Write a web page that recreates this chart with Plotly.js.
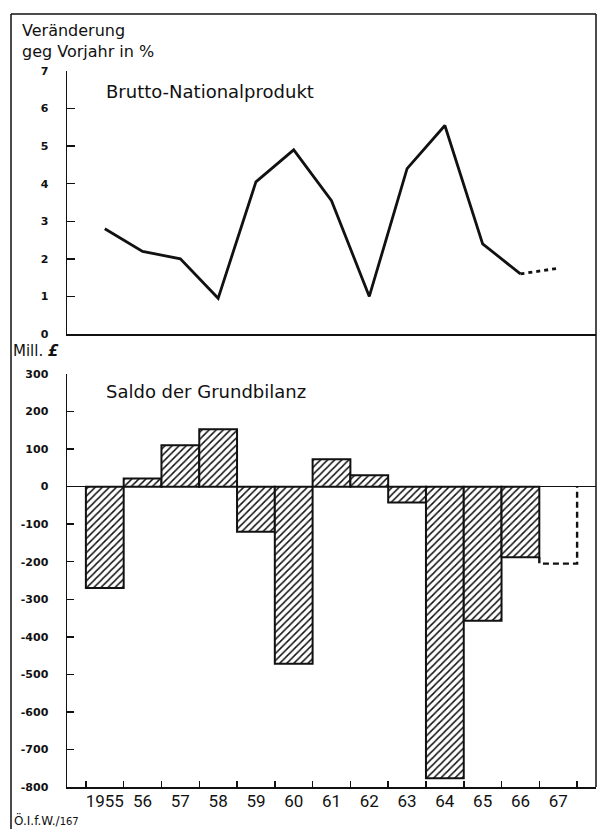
<!DOCTYPE html>
<html>
<head>
<meta charset="utf-8">
<script src="https://cdn.plot.ly/plotly-3.0.1.min.js"></script>
<style>
html,body{margin:0;padding:0;background:#fff;}
#chart{width:611px;height:829px;}
</style>
</head>
<body>
<div id="chart"></div>
<script>
// ---- data ----
var years = [1955,1956,1957,1958,1959,1960,1961,1962,1963,1964,1965,1966,1967];
var yearLabels = ["1955","56","57","58","59","60","61","62","63","64","65","66","67"];
// Brutto-Nationalprodukt, Veränderung gegen Vorjahr in %
var gnpGrowth = [2.8,2.2,2.0,0.95,4.05,4.9,3.55,1.0,4.4,5.55,2.4,1.6,1.75];
// Saldo der Grundbilanz, Mill. £
var basicBalance = [-270,22,110,153,-120,-472,73,30,-42,-777,-357,-188,-205];
var gnpTicks = [0,1,2,3,4,5,6,7];
var gnpTickText = ["0","1","2","3","4","5","6","7"];
var balTicks = [-800,-700,-600,-500,-400,-300,-200,-100,0,100,200,300];
var balTickText = ["-800","-700","-600","-500","-400","-300","-200","-100","0","100","200","300"];

// ---- helpers ----
var W = 611, H = 829;
function px(x){ return x / W; }
function py(y){ return 1 - y / H; }

var nSolid = years.length - 1; // last year is an estimate (dashed)
var ink = "#111";

// bar boundaries (tick marks on the lower axis)
var edges = years.map(function(y){ return y - 0.5; });
edges.push(years[years.length - 1] + 0.5);
var edgeText = edges.map(function(){ return ""; });

var traces = [
  { // GNP solid line
    x: years.slice(0, nSolid), y: gnpGrowth.slice(0, nSolid),
    type: "scatter", mode: "lines", xaxis: "x", yaxis: "y",
    line: {color: ink, width: 2.8}, hoverinfo: "skip"
  },
  { // GNP dashed estimate
    x: years.slice(nSolid - 1), y: gnpGrowth.slice(nSolid - 1),
    type: "scatter", mode: "lines", xaxis: "x", yaxis: "y",
    line: {color: ink, width: 2.8, dash: "4px,4px"}, hoverinfo: "skip"
  },
  { // Balance bars
    x: years.slice(0, nSolid), y: basicBalance.slice(0, nSolid),
    type: "bar", xaxis: "x2", yaxis: "y2", width: 1,
    marker: {
      color: "#fff",
      line: {color: ink, width: 2},
      pattern: {shape: "/", fgcolor: ink, bgcolor: "#fff", size: 5, solidity: 0.3}
    },
    hoverinfo: "skip"
  }
];
// dashed estimate bar outline for last year
var ly = years[nSolid], lv = basicBalance[nSolid];
traces.push({
  x: [ly - 0.5, ly - 0.5, ly + 0.5, ly + 0.5],
  y: [basicBalance[nSolid - 1], lv, lv, 0],
  type: "scatter", mode: "lines", xaxis: "x3", yaxis: "y2",
  line: {color: ink, width: 2.4, dash: "6px,4px"}, hoverinfo: "skip"
});

var xDomain = [px(67), px(596)];
var xRange = [years[0] - 1, years[years.length - 1] + 1];
var tickFont = {family: "DejaVu Sans, sans-serif", size: 11, color: ink, weight: "bold"};
var labelFont = {family: "DejaVu Sans, sans-serif", size: 16, color: ink};

var layout = {
  width: W, height: H,
  margin: {l: 0, r: 0, t: 0, b: 0},
  paper_bgcolor: "#fff", plot_bgcolor: "rgba(0,0,0,0)",
  showlegend: false,
  bargap: 0,
  xaxis: {
    domain: xDomain, range: xRange, anchor: "y",
    showline: true, linecolor: ink, linewidth: 1.5,
    ticks: "", showticklabels: false, showgrid: false, zeroline: false, fixedrange: true
  },
  yaxis: {
    domain: [py(334), py(71)], range: [0, 7], anchor: "x",
    tickmode: "array", tickvals: gnpTicks, ticktext: gnpTickText,
    ticks: "inside", ticklen: 8, tickwidth: 1.5, tickcolor: ink,
    showline: true, linecolor: ink, linewidth: 1.5,
    showgrid: false, zeroline: false, tickfont: tickFont, ticklabelstandoff: 15, fixedrange: true
  },
  xaxis2: {
    domain: xDomain, range: xRange, anchor: "y2",
    showline: true, linecolor: ink, linewidth: 2,
    tickmode: "array", tickvals: edges, ticktext: edgeText,
    ticks: "inside", ticklen: 6, tickwidth: 1.5, tickcolor: ink,
    showgrid: false, zeroline: false, fixedrange: true
  },
  xaxis3: {
    overlaying: "x2", anchor: "y2", range: xRange,
    showline: false, ticks: "",
    tickmode: "array", tickvals: years, ticktext: yearLabels,
    tickfont: {family: "Roboto, sans-serif", size: 17, color: ink},
    ticklabelstandoff: 2,
    showgrid: false, zeroline: false, fixedrange: true
  },
  yaxis2: {
    domain: [py(787), py(374)], range: [-800, 300], anchor: "x2",
    tickmode: "array", tickvals: balTicks, ticktext: balTickText,
    ticks: "inside", ticklen: 7, tickwidth: 1.5, tickcolor: ink,
    showline: true, linecolor: ink, linewidth: 1.5,
    showgrid: false, zeroline: true, zerolinecolor: ink, zerolinewidth: 1.2,
    tickfont: tickFont, ticklabelstandoff: 15, fixedrange: true
  },
  shapes: [
    {type: "line", xref: "paper", yref: "paper", x0: px(11), x1: px(11), y0: py(14), y1: py(829), line: {color: ink, width: 1.5}},
    {type: "line", xref: "paper", yref: "paper", x0: px(11), x1: px(596), y0: py(14), y1: py(14), line: {color: ink, width: 1.5}},
    {type: "line", xref: "paper", yref: "paper", x0: px(596), x1: px(596), y0: py(14), y1: py(787), line: {color: ink, width: 1.5}}
  ],
  annotations: [
    {text: "Veränderung", xref: "paper", yref: "paper", x: px(20), y: py(31), xanchor: "left", yanchor: "middle", showarrow: false, font: labelFont},
    {text: "geg Vorjahr in %", xref: "paper", yref: "paper", x: px(20), y: py(51), xanchor: "left", yanchor: "middle", showarrow: false, font: labelFont},
    {text: "Brutto-Nationalprodukt", xref: "paper", yref: "paper", x: px(104), y: py(92), xanchor: "left", yanchor: "middle", showarrow: false, font: {family: "DejaVu Sans, sans-serif", size: 18, color: ink}},
    {text: "Mill. <b><i>£</i></b>", xref: "paper", yref: "paper", x: px(11), y: py(351), xanchor: "left", yanchor: "middle", showarrow: false, font: {family: "DejaVu Sans, sans-serif", size: 15, color: ink}},
    {text: "Saldo der Grundbilanz", xref: "paper", yref: "paper", x: px(104), y: py(392), xanchor: "left", yanchor: "middle", showarrow: false, font: {family: "DejaVu Sans, sans-serif", size: 18, color: ink}},
    {text: "Ö.I.f.W./<span style='font-size:10px'>167</span>", xref: "paper", yref: "paper", x: px(12), y: py(820), xanchor: "left", yanchor: "middle", showarrow: false, font: {family: "DejaVu Sans, sans-serif", size: 12, color: ink}}
  ]
};

Plotly.newPlot("chart", traces, layout, {staticPlot: true, displayModeBar: false});
</script>
</body>
</html>
